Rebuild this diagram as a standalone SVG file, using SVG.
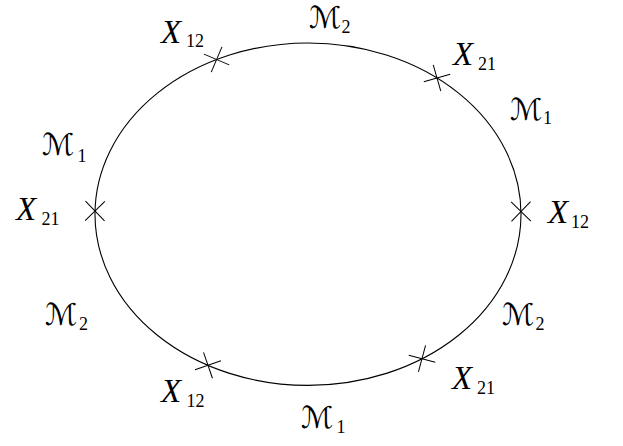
<svg xmlns="http://www.w3.org/2000/svg" width="623" height="446" viewBox="0 0 623 446">
<style>
.curve{fill:none;stroke:#000;stroke-width:1.1}
.x{stroke:#000;stroke-width:1}
.var{font-family:"Liberation Serif",serif;font-style:italic;font-size:33px;fill:#000}
.cal{font-family:"DejaVu Serif","DejaVu Sans",serif;font-size:30px;fill:#000}
.sub{font-family:"Liberation Serif",serif;font-size:18px;fill:#000}
</style>
<defs>
<g id="cross"><line class="x" x1="-9.7" y1="-9.7" x2="9.7" y2="9.7"/><line class="x" x1="-9.7" y1="9.7" x2="9.7" y2="-9.7"/></g>
</defs>
<g id="connectors">
<ellipse class="curve" cx="308" cy="214.2" rx="213" ry="171.2"/>
</g>
<g id="cross-tl"><use href="#cross" transform="translate(216.6,59.5) rotate(-22)"/><text class="var" x="161" y="42.5">X</text><text class="sub" x="186" y="47.3">12</text></g>
<g id="cross-tr"><use href="#cross" transform="translate(437,78) rotate(29)"/><text class="var" x="453" y="65">X</text><text class="sub" x="478" y="70">21</text></g>
<g id="cross-l"><use href="#cross" transform="translate(95,211) rotate(1)"/><text class="var" x="16" y="220">X</text><text class="sub" x="41.5" y="225">21</text></g>
<g id="cross-r"><use href="#cross" transform="translate(521,211.5) rotate(-1)"/><text class="var" x="548" y="223">X</text><text class="sub" x="571" y="228">12</text></g>
<g id="cross-bl"><use href="#cross" transform="translate(208,365.3) rotate(26)"/><text class="var" x="161" y="402">X</text><text class="sub" x="186.5" y="407">12</text></g>
<g id="cross-br"><use href="#cross" transform="translate(422,358.7) rotate(-30)"/><text class="var" x="452" y="389">X</text><text class="sub" x="477" y="393.5">21</text></g>
<g id="label-top"><text class="cal" x="309" y="28">ℳ</text><text class="sub" x="341.5" y="33.3">2</text></g>
<g id="label-ru"><text class="cal" x="510" y="120">ℳ</text><text class="sub" x="543" y="123.5">1</text></g>
<g id="label-lu"><text class="cal" x="42" y="155">ℳ</text><text class="sub" x="77.5" y="162">1</text></g>
<g id="label-ll"><text class="cal" x="45" y="325">ℳ</text><text class="sub" x="79" y="330">2</text></g>
<g id="label-rl"><text class="cal" x="502" y="325">ℳ</text><text class="sub" x="535.5" y="329.5">2</text></g>
<g id="label-bot"><text class="cal" x="301" y="428">ℳ</text><text class="sub" x="336.5" y="433.3">1</text></g>
</svg>
